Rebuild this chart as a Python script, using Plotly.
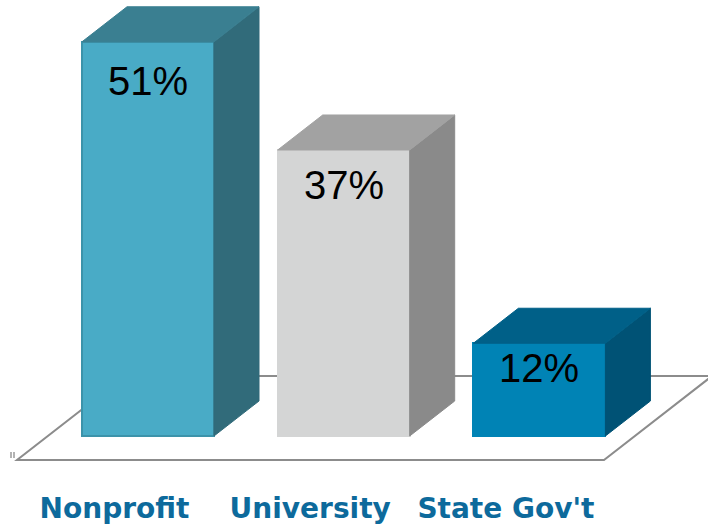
import plotly.graph_objects as go

# ---- data ----
categories = ["Nonprofit", "University", "State Gov't"]
values = [51, 37, 12]

# ---- styles ----
front_colors = ["#49abc6", "#d4d5d5", "#0083b5"]
top_colors = ["#3a7f91", "#a2a2a2", "#006088"]
side_colors = ["#316b7a", "#8a8a8a", "#005275"]
edge_colors = ["#3c93aa", "#d4d5d5", "#0083b5"]
label_shift = [-39, -35, -25]   # pixel offset of value labels below bar top

W, H = 708, 526
PX_X = 195.7      # pixels per category unit
PX_Y = 7.73       # pixels per percent
ZERO_PX = 436     # pixel row of value 0
CENTER0_PX = 148  # pixel column of first category
PLOT_H = 472

bar_w = 132 / PX_X
dx = 45 / PX_X          # 3D depth offset (x, in data units)
dy = 35 / PX_Y          # 3D depth offset (y, in data units)

# floor (3D plane)
floor_front_y = -24 / PX_Y
floor_depth_x = 108 / PX_X
floor_depth_y = 84 / PX_Y
floor_left = (17 - CENTER0_PX) / PX_X
floor_right = (604 - CENTER0_PX) / PX_X
label_offset = -33.5 / PX_X

x_range = [-CENTER0_PX / PX_X, (W - CENTER0_PX) / PX_X]
y_range = [-(PLOT_H - ZERO_PX) / PX_Y, ZERO_PX / PX_Y]

xs = list(range(len(categories)))

fig = go.Figure()

# front faces
fig.add_trace(go.Bar(
    x=xs, y=values, width=bar_w,
    marker=dict(color=front_colors, line=dict(color=edge_colors, width=2)),
    hoverinfo="skip", showlegend=False,
))

# side and top faces (computed from values)
for i, v in enumerate(values):
    xl, xr = i - bar_w / 2, i + bar_w / 2
    fig.add_trace(go.Scatter(
        x=[xr, xr + dx, xr + dx, xr, xr],
        y=[0, dy, v + dy, v, 0],
        fill="toself", fillcolor=side_colors[i], mode="lines",
        line=dict(color=side_colors[i], width=1),
        hoverinfo="skip", showlegend=False,
    ))
    fig.add_trace(go.Scatter(
        x=[xl, xl + dx, xr + dx, xr, xl],
        y=[v, v + dy, v + dy, v, v],
        fill="toself", fillcolor=top_colors[i], mode="lines",
        line=dict(color=top_colors[i], width=1),
        hoverinfo="skip", showlegend=False,
    ))
    fig.add_annotation(
        x=i, y=v, yshift=label_shift[i], text=f"{v}%", showarrow=False,
        font=dict(family="Liberation Sans, Arial, sans-serif", size=40, color="#000000"),
    )

# floor plane
fy0 = floor_front_y
fy1 = floor_front_y + floor_depth_y
path = (f"M {floor_left},{fy0} L {floor_right},{fy0} "
        f"L {floor_right + floor_depth_x},{fy1} L {floor_left + floor_depth_x},{fy1} Z")
fig.add_shape(type="path", path=path, xref="x", yref="y", layer="below",
              fillcolor="white", line=dict(color="#8c8c8c", width=2))

# small axis tick remnants at the floor's left corner
for px in (11, 14):
    fig.add_shape(type="line", xref="x", yref="y", layer="below",
                  x0=(px - CENTER0_PX) / PX_X, x1=(px - CENTER0_PX) / PX_X,
                  y0=(ZERO_PX - 452) / PX_Y, y1=(ZERO_PX - 458) / PX_Y,
                  line=dict(color="#9a9a9a", width=1.5))

fig.update_layout(
    width=W, height=H, autosize=False,
    margin=dict(l=0, r=0, t=0, b=H - PLOT_H, autoexpand=False),
    paper_bgcolor="white", plot_bgcolor="white",
    xaxis=dict(
        range=x_range, tickvals=[x + label_offset for x in xs], ticktext=categories,
        showgrid=False, zeroline=False, showline=False, automargin=False,
        ticks="outside", ticklen=11, tickcolor="rgba(0,0,0,0)",
        tickfont=dict(family="DejaVu Sans, sans-serif", size=28, color="#0d6a9c"),
        fixedrange=True,
    ),
    yaxis=dict(range=y_range, visible=False, fixedrange=True, automargin=False),
    bargap=0,
)
fig.update_xaxes(tickfont_weight="bold")

fig.write_html("out.html", config={"displayModeBar": False},
               post_script="document.body.style.margin='0';document.body.style.overflow='hidden';")
